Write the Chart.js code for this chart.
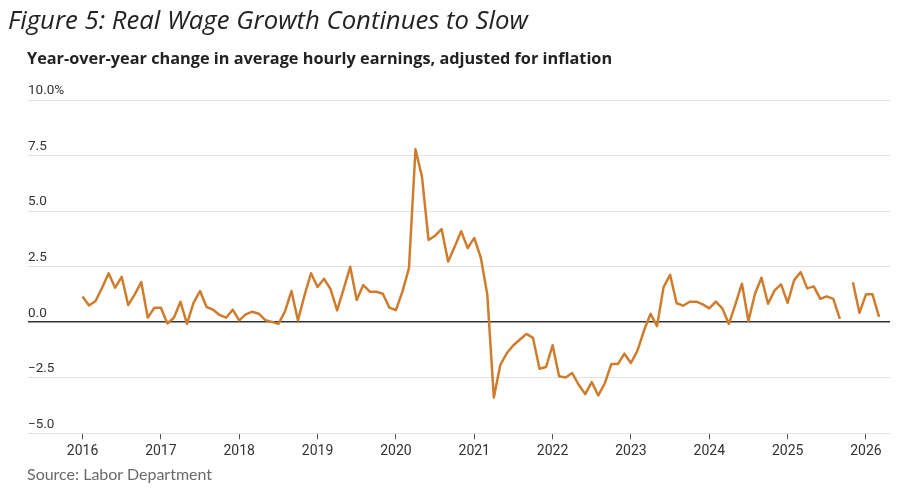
<!DOCTYPE html>
<html>
<head>
<meta charset="utf-8">
<script src="https://cdn.jsdelivr.net/npm/chart.js@4.4.1/dist/chart.umd.min.js"></script>
<style>
  html, body { margin: 0; padding: 0; background: #fff; }
  #wrap { position: relative; width: 918px; height: 502px; overflow: hidden; }
  #chartBox { position: absolute; left: 0; top: 0; width: 918px; height: 502px; }
  .txt { position: absolute; white-space: nowrap; }
  #title { left: 8px; top: 2px; font-family: "Open Sans", sans-serif; font-style: italic; font-size: 25.7px; color: #222; }
  #subtitle { left: 27px; top: 47px; font-family: "Open Sans", sans-serif; font-weight: 700; font-size: 16.3px; color: #222; }
  #source { left: 27px; top: 464px; font-family: Lato, sans-serif; font-size: 16px; color: #6a6a6a; }
</style>
</head>
<body>
<div id="wrap">
  <div id="chartBox"><canvas id="c"></canvas></div>
  <div id="title" class="txt">Figure 5: Real Wage Growth Continues to Slow</div>
  <div id="subtitle" class="txt">Year-over-year change in average hourly earnings, adjusted for inflation</div>
  <div id="source" class="txt">Source: Labor Department</div>
</div>
<script>
// ---- Data ----
const startYear = 2016; // first month = January 2016, one value per month
const yearLabels = ['2016','2017','2018','2019','2020','2021','2022','2023','2024','2025','2026'];
const yTickValues = [-5, -2.5, 0, 2.5, 5, 7.5, 10];
const yTickLabels = ['\u22125.0', '\u22122.5', '0.0', '2.5', '5.0', '7.5', '10.0%'];
const realWageGrowth = [
  // 2016
  1.15, 0.75, 0.95, 1.55, 2.2, 1.55, 2.04, 0.77, 1.25, 1.8, 0.2, 0.65,
  // 2017
  0.65, -0.06, 0.2, 0.92, -0.08, 0.87, 1.4, 0.68, 0.56, 0.32, 0.2, 0.56,
  // 2018
  0.08, 0.35, 0.47, 0.38, 0.09, 0.01, -0.08, 0.47, 1.4, 0.08, 1.2, 2.2,
  // 2019
  1.58, 1.95, 1.48, 0.53, 1.5, 2.49, 1.0, 1.67, 1.37, 1.37, 1.28, 0.65,
  // 2020
  0.54, 1.37, 2.43, 7.78, 6.53, 3.7, 3.89, 4.19, 2.73, 3.39, 4.09, 3.33,
  // 2021
  3.79, 2.91, 1.24, -3.39, -1.92, -1.39, -1.04, -0.78, -0.53, -0.71, -2.1, -2.02,
  // 2022
  -1.04, -2.44, -2.49, -2.29, -2.82, -3.24, -2.7, -3.3, -2.75, -1.89, -1.89, -1.42,
  // 2023
  -1.84, -1.28, -0.38, 0.37, -0.18, 1.58, 2.13, 0.85, 0.74, 0.92, 0.92, 0.8,
  // 2024
  0.62, 0.92, 0.62, -0.08, 0.8, 1.73, 0.05, 1.28, 2.0, 0.83, 1.43, 1.7,
  // 2025 (October missing)
  0.87, 1.89, 2.25, 1.52, 1.61, 1.05, 1.16, 1.05, 0.15, null, 1.8, 0.42,
  // 2026
  1.25, 1.25, 0.24
];

const points = realWageGrowth.map((v, i) => ({ x: i, y: v }));
const xTickFont = { family: 'Roboto, "Liberation Sans", sans-serif', size: 14 };
const yTickFont = { family: 'Roboto, "Liberation Sans", sans-serif', size: 13.5 };

new Chart(document.getElementById('c'), {
  type: 'line',
  data: {
    datasets: [{
      data: points,
      borderColor: '#cf7c2c',
      borderWidth: 2.5,
      pointRadius: 0,
      pointHoverRadius: 0,
      tension: 0,
      spanGaps: false,
      borderJoinStyle: 'round',
      borderCapStyle: 'butt'
    }]
  },
  options: {
    responsive: true,
    maintainAspectRatio: false,
    animation: false,
    layout: { padding: { left: 28, right: 28, top: 100, bottom: 38 } },
    plugins: { legend: { display: false }, tooltip: { enabled: false }, title: { display: false } },
    scales: {
      x: {
        type: 'linear',
        min: -8.35,
        max: 123.68,
        afterBuildTicks: (scale) => {
          scale.ticks = yearLabels.map((_, i) => ({ value: i * 12 }));
        },
        grid: { drawOnChartArea: false, drawTicks: true, tickLength: 6, color: '#555', lineWidth: 1 },
        border: { display: false },
        ticks: {
          autoSkip: false, maxRotation: 0, padding: 4,
          color: '#333', font: xTickFont,
          callback: (value, index) => yearLabels[index]
        }
      },
      y: {
        min: -5,
        max: 10,
        afterBuildTicks: (scale) => {
          scale.ticks = yTickValues.map(v => ({ value: v }));
        },
        grid: {
          drawTicks: false,
          color: (ctx) => (ctx.tick && ctx.tick.value === 0) ? '#333' : '#e2e2e2',
          lineWidth: (ctx) => (ctx.tick && ctx.tick.value === 0) ? 1.5 : 1
        },
        border: { display: false },
        ticks: {
          mirror: true, padding: 0, labelOffset: -9,
          color: '#333', font: yTickFont,
          callback: (value) => {
            const k = yTickValues.indexOf(value);
            return k >= 0 ? yTickLabels[k] : '';
          }
        }
      }
    }
  }
});
</script>
</body>
</html>
